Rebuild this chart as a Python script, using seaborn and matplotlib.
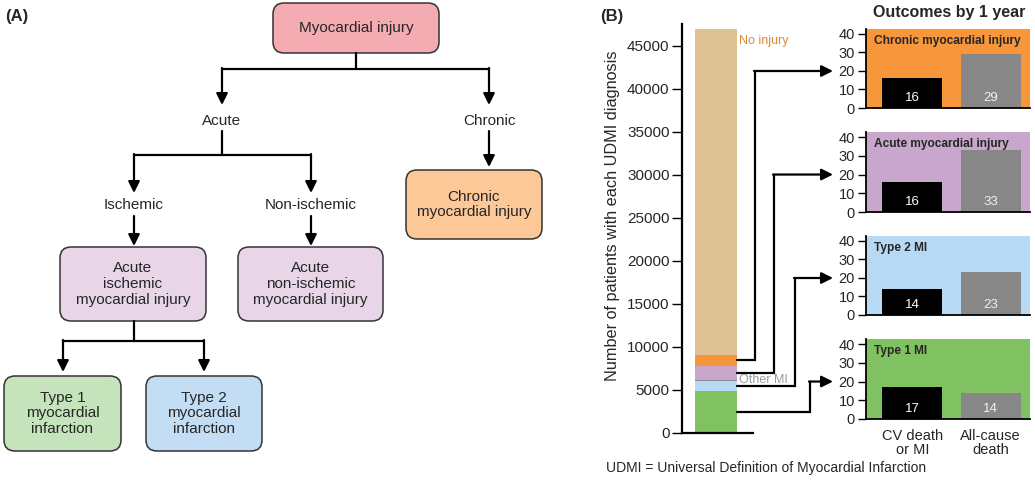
import numpy as np
import matplotlib
matplotlib.use("Agg")
import matplotlib.pyplot as plt
import seaborn as sns
from matplotlib.patches import FancyBboxPatch

sns.set_theme(style="white")
plt.rcParams['font.family'] = ['Liberation Sans', 'DejaVu Sans']

# --- data -------------------------------------------------------------
# stacked bar, bottom to top
segment_names = ["Type 1 MI", "Type 2 MI", "Other MI", "Acute myocardial injury",
                 "Chronic myocardial injury", "No injury"]
segment_counts = [4900, 1100, 150, 1600, 1300, 37850]
segment_colors = ["#80c262", "#b8d9f3", "#8c8c8c", "#c9a6cc", "#f7963a", "#dfc196"]

# outcome panels, top to bottom
panel_titles = ["Chronic myocardial injury", "Acute myocardial injury", "Type 2 MI", "Type 1 MI"]
panel_colors = ["#f7963a", "#c9a6cc", "#b8d9f3", "#80c262"]
outcome_labels = ["CV death\nor MI", "All-cause\ndeath"]
cv_death_mi = [16, 16, 14, 17]
all_cause_death = [29, 33, 23, 14]
panel_segment = [4, 3, 1, 0]  # which stacked segment feeds each panel

# flow diagram (panel A)
root_label = "Myocardial injury"
level1 = ["Acute", "Chronic"]
level2 = ["Ischemic", "Non-ischemic"]
box_labels = ["Acute\nischemic\nmyocardial injury", "Acute\nnon-ischemic\nmyocardial injury",
              "Chronic\nmyocardial injury", "Type 1\nmyocardial\ninfarction",
              "Type 2\nmyocardial\ninfarction"]
box_colors = ["#e8d6e8", "#e8d6e8", "#fdc897", "#c6e4bc", "#c3def4"]

W, H = 1035, 480
fig = plt.figure(figsize=(W / 100, H / 100), dpi=100)


def fig_rect(x0, y0, x1, y1):
    # pixel box (top-left origin) -> figure fraction
    return [x0 / W, 1 - y1 / H, (x1 - x0) / W, (y1 - y0) / H]


# --- main stacked bar --------------------------------------------------
ax = fig.add_axes(fig_rect(682, 24, 753, 432.7))
cum = np.cumsum(segment_counts)
for top, col in zip(cum[::-1], segment_colors[::-1]):
    sns.barplot(x=["all"], y=[top], color=col, saturation=1, width=1, ax=ax, linewidth=0)
ax.set_xlim(-0.81, 0.88)
ax.set_ylim(0, 47525)
ax.set_yticks(np.arange(0, 45001, 5000))
ax.set_yticklabels([str(v) for v in range(0, 45001, 5000)], fontsize=11)
ax.set_xticks([])
ax.set_xlabel("")
ax.set_ylabel("Number of patients with each UDMI diagnosis", fontsize=11.7)
ax.yaxis.set_label_coords(-0.88, 0.53)
for s in ["top", "right"]:
    ax.spines[s].set_visible(False)
for s in ["left", "bottom"]:
    ax.spines[s].set_linewidth(1.6)
    ax.spines[s].set_color("black")
ax.tick_params(axis="y", left=True, length=7, width=1, color="black", pad=2)
ax.text(0.55, cum[-1] - 600, "No injury", color="#d98b2e", fontsize=9, va="top", ha="left")
ax.text(0.55, cum[2] - 20, "Other MI", color="#9a9a9a", fontsize=9, va="center", ha="left")

# --- outcome panels ----------------------------------------------------
panel_px = [(29, 108), (132, 212), (236, 315), (339, 419)]
panel_axes = []
for i, (t, b) in enumerate(panel_px):
    pax = fig.add_axes(fig_rect(866, t, 1030, b))
    vals = [cv_death_mi[i], all_cause_death[i]]
    sns.barplot(x=outcome_labels, y=vals, hue=outcome_labels, palette=["black", "#878787"],
                saturation=1, width=0.76, ax=pax, legend=False, linewidth=0)
    pax.set_facecolor(panel_colors[i])
    pax.set_xlim(-0.59, 1.5)
    pax.set_ylim(0, 42.7)
    pax.set_yticks([0, 10, 20, 30, 40])
    pax.tick_params(axis="y", left=True, length=6, width=1, color="black", labelsize=10.5, pad=2)
    pax.tick_params(axis="x", bottom=False, labelsize=10.5, pad=1)
    pax.set_ylabel("")
    pax.set_xlabel("")
    if i < 3:
        pax.set_xticklabels([])
    else:
        for lab in pax.get_xticklabels():
            lab.set_linespacing(1.0)
    for s in ["top", "right"]:
        pax.spines[s].set_visible(False)
    for s in ["left", "bottom"]:
        pax.spines[s].set_linewidth(1.3)
        pax.spines[s].set_color("black")
    pax.text(0.05, 0.93, panel_titles[i], transform=pax.transAxes, fontsize=8.6,
             fontweight="bold", va="top", ha="left")
    for j, v in enumerate(vals):
        pax.text(j, 5.5, str(v), ha="center", va="center", fontsize=9.5,
                 color="white" if j == 0 else "#f0f0f0")
    panel_axes.append(pax)

# --- overlay: diagram + connectors -------------------------------------
ov = fig.add_axes([0, 0, 1, 1])
ov.set_xlim(0, W)
ov.set_ylim(H, 0)
ov.axis("off")
ov.patch.set_visible(False)

arrow_kw = dict(arrowstyle="-|>", mutation_scale=17, lw=1.6, color="black",
                shrinkA=0, shrinkB=0)


def disp_to_px(axis, x, y):
    dx, dy = axis.transData.transform((x, y))
    return dx, H - dy


def arrow(x0, y0, x1, y1):
    ov.annotate("", xy=(x1, y1), xytext=(x0, y0), arrowprops=arrow_kw)


def line(xs, ys):
    ov.plot(xs, ys, color="black", lw=1.6, solid_joinstyle="miter")


# connectors from stacked segments to outcome panels
elbow_x = [755, 774, 795, 810]
bottoms = np.concatenate([[0], cum[:-1]])
for i, pax in enumerate(panel_axes):
    k = panel_segment[i]
    mid = bottoms[k] + segment_counts[k] / 2
    sx, sy = disp_to_px(ax, 0.5, mid)
    _, ty = disp_to_px(pax, 0, 20)
    line([sx, elbow_x[i], elbow_x[i]], [sy, sy, ty])
    arrow(elbow_x[i] - 1, ty, 833, ty)

FS = 11


def box(x0, y0, x1, y1, color, label):
    p = FancyBboxPatch((x0, y0), x1 - x0, y1 - y0,
                       boxstyle="round,pad=0,rounding_size=11",
                       fc=color, ec="#333333", lw=1.1)
    ov.add_patch(p)
    ov.text((x0 + x1) / 2, (y0 + y1) / 2, label, ha="center", va="center",
            fontsize=FS, linespacing=1.18)


box(273, 3, 439, 53, "#f4abb1", root_label)
line([356, 356], [53, 69])
line([222, 489], [69, 69])
arrow(222, 68, 222, 105)
arrow(489, 68, 489, 105)
ov.text(222, 121, level1[0], ha="center", va="center", fontsize=FS)
ov.text(489, 121, level1[1], ha="center", va="center", fontsize=FS)

line([222, 222], [131, 155])
line([134, 311], [155, 155])
arrow(134, 154, 134, 193)
arrow(311, 154, 311, 193)
arrow(489, 131, 489, 167)
ov.text(134, 205, level2[0], ha="center", va="center", fontsize=FS)
ov.text(311, 205, level2[1], ha="center", va="center", fontsize=FS)

arrow(134, 216, 134, 246)
arrow(311, 216, 311, 246)
box(60, 247, 206, 321, box_colors[0], box_labels[0])
box(238, 247, 383, 321, box_colors[1], box_labels[1])
box(406, 170, 542, 239, box_colors[2], box_labels[2])

line([134, 134], [321, 341])
line([63, 204], [341, 341])
arrow(63, 340, 63, 372)
arrow(204, 340, 204, 372)
box(4, 376, 121, 451, box_colors[3], box_labels[3])
box(146, 376, 262, 451, box_colors[4], box_labels[4])

# headings
ov.text(5, 16, "(A)", fontsize=12, fontweight="bold", ha="left", va="center")
ov.text(600, 16, "(B)", fontsize=12, fontweight="bold", ha="left", va="center")
ov.text(949, 12, "Outcomes by 1 year", fontsize=11.5, fontweight="bold", ha="center", va="center")
ov.text(606, 468, "UDMI = Universal Definition of Myocardial Infarction", fontsize=10,
        ha="left", va="center")

fig.savefig("out.png", dpi=100)
